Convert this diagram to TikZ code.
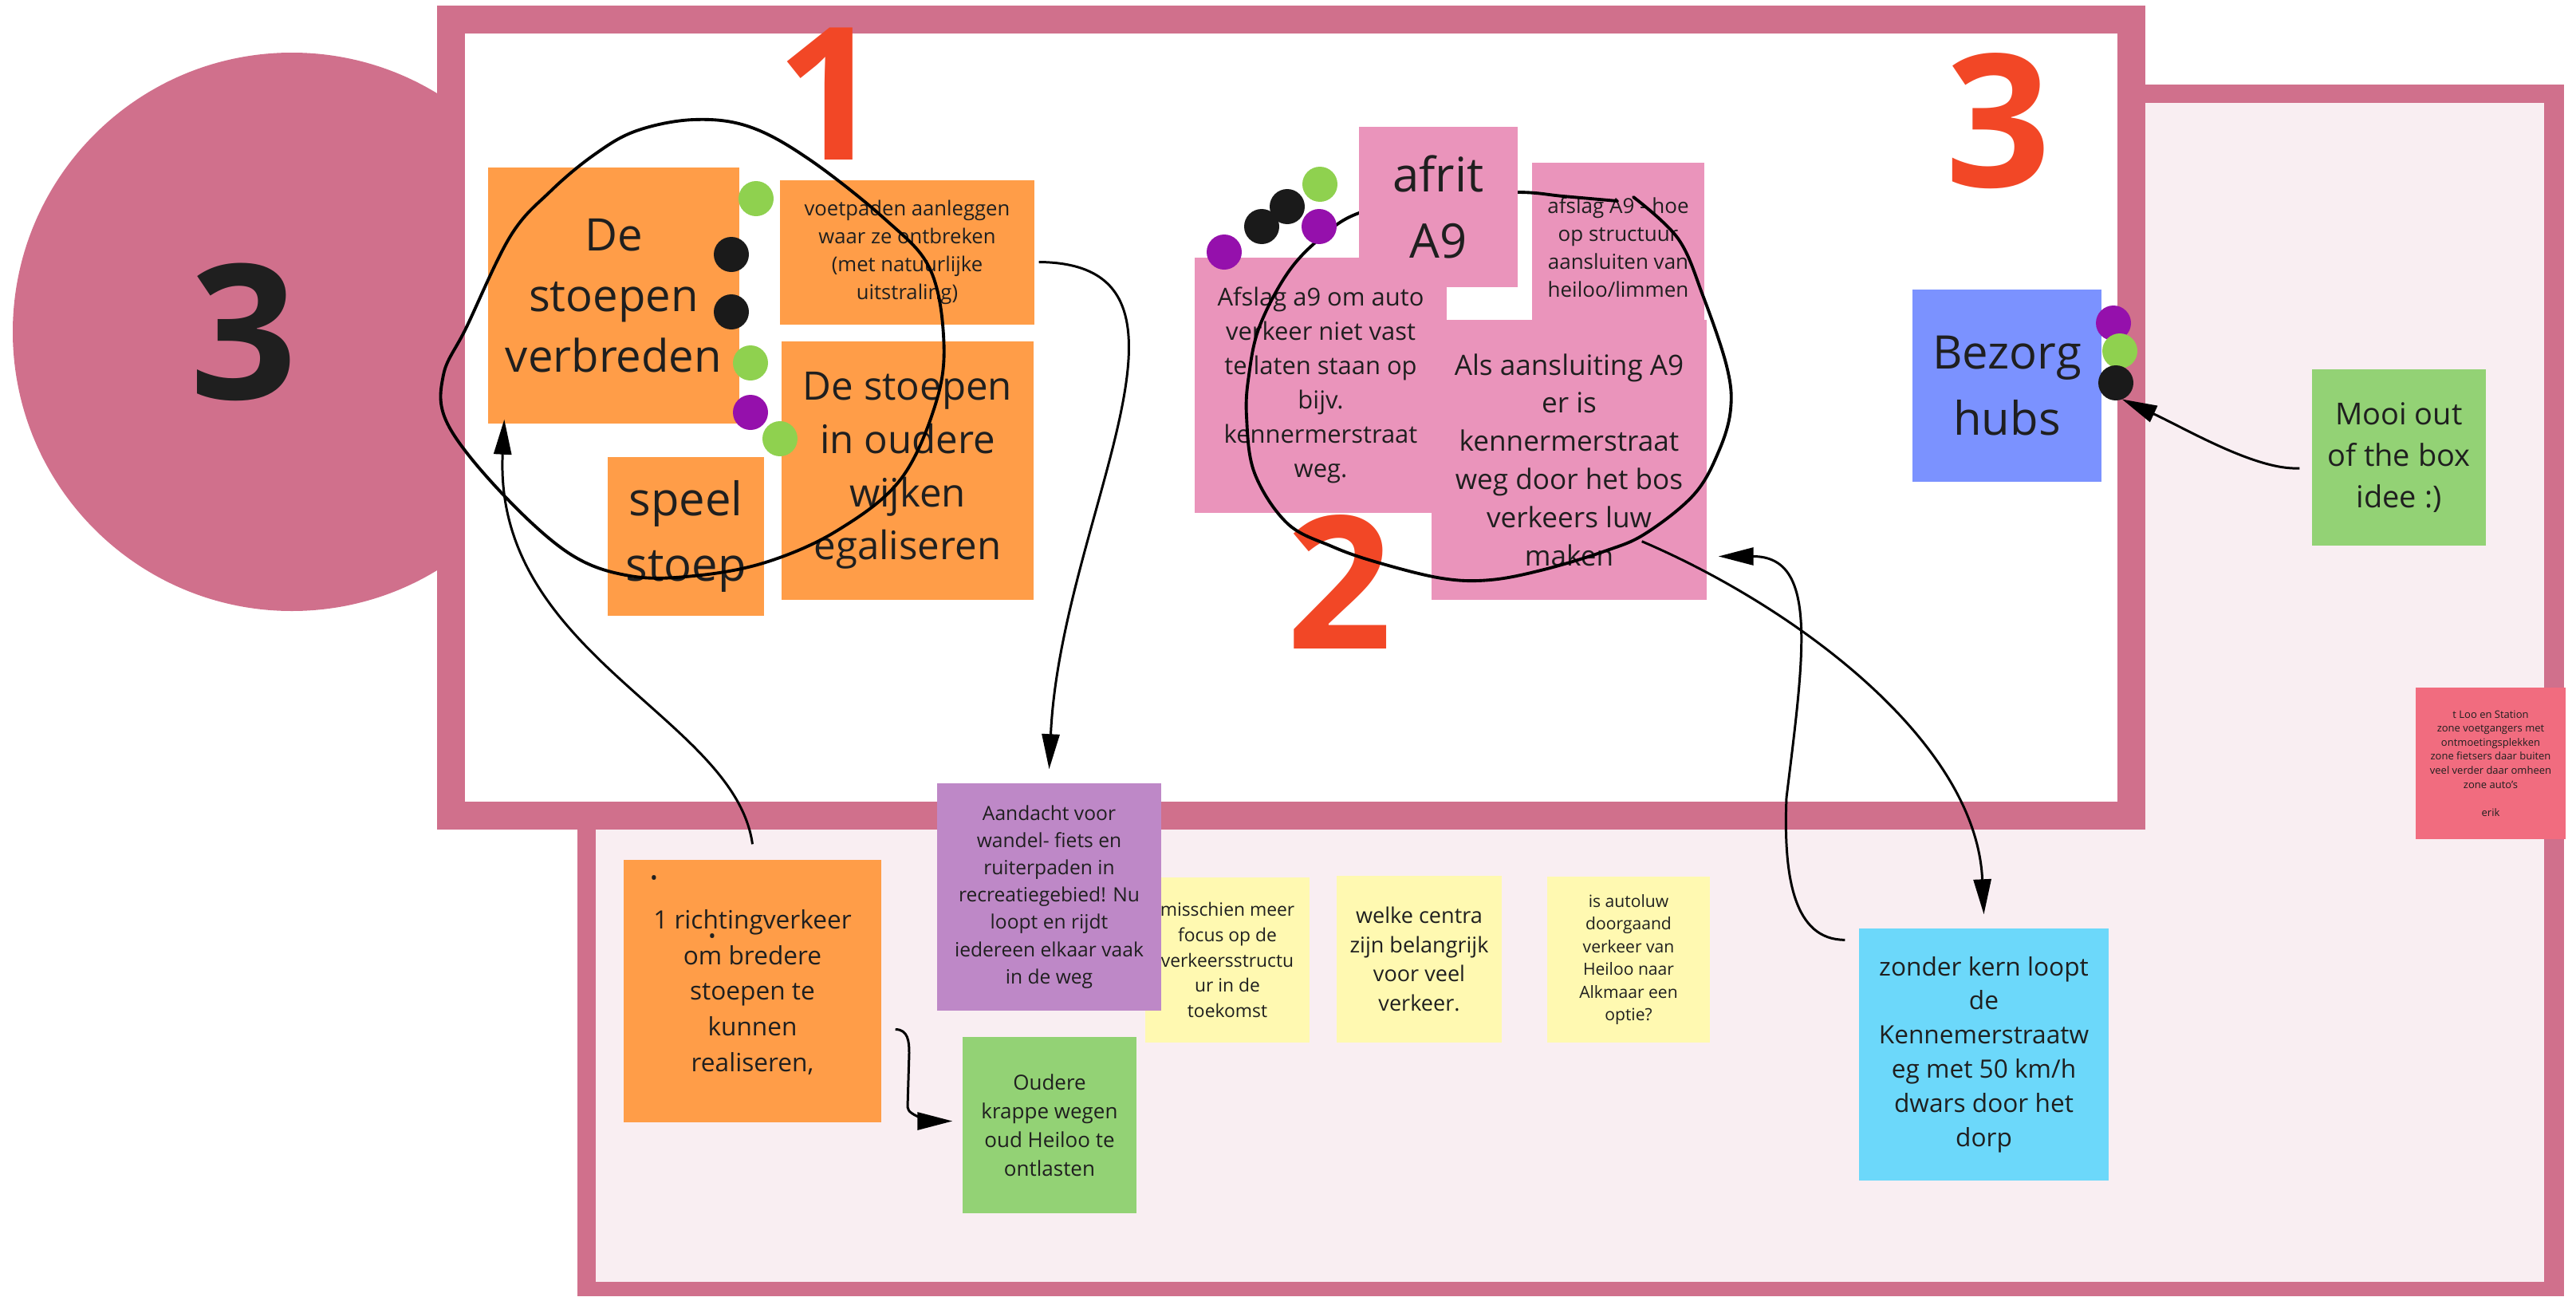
\documentclass[tikz,border=0pt]{standalone}
\usepackage{fontspec}
\setmainfont{Open Sans}
\usetikzlibrary{arrows.meta}
\definecolor{framepink}{HTML}{D0708C}
\definecolor{framebg}{HTML}{F9EEF2}
\definecolor{ink}{HTML}{1F1F1F}
\definecolor{numred}{HTML}{F24726}
\definecolor{orangest}{HTML}{FF9D48}
\definecolor{pinkst}{HTML}{EA94BB}
\definecolor{purplest}{HTML}{BE88C7}
\definecolor{yellowst}{HTML}{FFF9B1}
\definecolor{greenst}{HTML}{93D275}
\definecolor{bluest}{HTML}{7B92FF}
\definecolor{cyanst}{HTML}{6CD8FA}
\definecolor{redst}{HTML}{F16C7F}
\definecolor{dotgreen}{HTML}{8FD14F}
\definecolor{dotblack}{HTML}{1A1A1A}
\definecolor{dotpurple}{HTML}{9510AC}
\newcommand{\fsz}[2]{\fontsize{#1}{#2}\selectfont}
\tikzset{
  sticky/.style={inner sep=0pt, align=center, text=ink},
  bignum/.style={inner sep=0pt, text=numred, font=\fsz{66}{66}\bfseries},
  link/.style={line width=0.85pt, -{Triangle[length=4.4mm,width=2.2mm]}},
  lasso/.style={line width=1.1pt, line cap=round, line join=round},
}

\begin{document}
\begin{tikzpicture}
      \useasboundingbox (0,0) rectangle (32.3,-16.25);
      \fill[framepink] (3.66,-4.16) circle (3.5);
      \fill[framepink] (7.24,-1.06) rectangle (32.15,-16.25);
      \fill[framebg] (7.47,-1.29) rectangle (31.90,-16.07);
      \fill[framepink] (5.48,-0.07) rectangle (26.90,-10.40);
      \fill[white] (5.83,-0.42) rectangle (26.55,-10.05);
      \node[inner sep=0pt, text=ink, font=\fsz{67}{67}\bfseries] (three) at (3.06,-4.16) {3};
      \node[bignum] (one) at (10.40,-1.18) {1};
      \node[bignum] (two) at (16.80,-7.30) {2};
      \node[bignum] (threeb) at (25.06,-1.52) {3};

      \node[sticky, fill=orangest, minimum width=3.15cm, minimum height=3.21cm, font=\fsz{16}{21.6}] (ds) at (7.695,-3.705) {De\\stoepen\\verbreden};
      \node[sticky, fill=orangest, minimum width=3.19cm, minimum height=1.81cm, font=\fsz{7.3}{10}] (vp) at (11.375,-3.165) {voetpaden aanleggen\\waar ze ontbreken\\(met natuurlijke\\uitstraling)};
      \node[sticky, fill=orangest, minimum width=3.16cm, minimum height=3.24cm, font=\fsz{14}{19}] (eg) at (11.38,-5.90) {De stoepen\\in oudere\\wijken\\egaliseren};
      \node[sticky, fill=orangest, minimum width=1.96cm, minimum height=1.99cm, font=\fsz{16.5}{23.4}] (sp) at (8.60,-6.725) {speel\\stoep};
      \draw[lasso] plot[smooth cycle, tension=0.6] coordinates {(7.98,-1.64) (8.70,-1.50) (9.40,-1.59) (10.15,-2.00) (11.10,-2.75) (11.65,-3.35) (11.83,-4.20) (11.75,-5.00) (11.30,-6.00) (10.50,-6.65) (9.60,-7.05) (8.70,-7.22) (7.90,-7.22) (7.14,-6.94) (6.28,-6.17) (5.61,-5.31) (5.56,-4.70) (5.85,-4.10) (6.40,-2.96) (6.90,-2.40) (7.45,-1.94)};

      \node[sticky, fill=pinkst, minimum width=3.16cm, minimum height=3.20cm, font=\fsz{8.8}{12.2}] (ab) at (16.56,-4.83) {Afslag a9 om auto\\verkeer niet vast\\te laten staan op\\bijv.\\kennermerstraat\\weg.};
      \node[sticky, fill=pinkst, minimum width=2.16cm, minimum height=2.12cm, font=\fsz{7.4}{10}] (ah) at (20.29,-3.10) {afslag A9 - hoe\\op structuur\\aansluiten van\\heiloo/limmen};
      \node[sticky, fill=pinkst, minimum width=3.45cm, minimum height=3.51cm, font=\fsz{10}{13.6}] (al) at (19.675,-5.765) {Als aansluiting A9\\er is\\kennermerstraat\\weg door het bos\\verkeers luw\\maken};
      \draw[lasso] plot[smooth, tension=0.6] coordinates {(20.48,-2.47) (21.04,-2.99) (21.35,-3.70) (21.65,-4.59) (21.70,-5.13) (21.55,-5.66) (21.24,-6.20) (20.63,-6.69) (20.12,-6.91) (19.36,-7.14) (18.69,-7.27) (18.08,-7.25) (17.27,-7.05) (16.70,-6.85) (16.14,-6.56) (15.73,-5.93) (15.63,-5.22) (15.66,-4.70) (15.79,-4.10) (16.14,-3.43) (16.55,-2.99) (17.04,-2.67) (18.00,-2.45) (19.03,-2.41) (19.60,-2.46) (20.28,-2.52)};
      \node[sticky, fill=pinkst, minimum width=1.99cm, minimum height=2.01cm, font=\fsz{17}{23.4}] (af) at (18.035,-2.595) {afrit\\A9};

      \node[sticky, fill=bluest, minimum width=2.37cm, minimum height=2.41cm, font=\fsz{16.5}{23.4}] (bz) at (25.165,-4.835) {Bezorg\\hubs};
      \node[sticky, fill=greenst, minimum width=2.18cm, minimum height=2.21cm, font=\fsz{10.8}{14.7}] (mo) at (30.08,-5.735) {Mooi out\\of the box\\idee :)};
      \node[sticky, fill=redst, minimum width=1.88cm, minimum height=1.90cm, font=\fsz{3.7}{5}] (er) at (31.23,-9.57) {t Loo en Station\\zone voetgangers met\\ontmoetingsplekken\\zone fietsers daar buiten\\veel verder daar omheen\\zone auto's\\[5pt]erik};

      \node[sticky, fill=orangest, minimum width=3.23cm, minimum height=3.29cm, font=\fsz{9}{12.7}] (rv) at (9.435,-12.425) {\phantom{1}\\1 richtingverkeer\\om bredere\\stoepen te\\kunnen\\realiseren,\\\phantom{1}};
      \node[inner sep=0pt, text=ink, font=\fsz{7}{7}] (rvdota) at (8.20,-11.04) {•};
      \node[inner sep=0pt, text=ink, font=\fsz{7}{7}] (rvdotb) at (8.93,-11.77) {•};
      \node[sticky, fill=yellowst, minimum width=2.06cm, minimum height=2.07cm, font=\fsz{6.5}{9}] (ya) at (15.39,-12.035) {misschien meer\\focus op de\\verkeersstructu\\ur in de\\toekomst};
      \node[sticky, fill=purplest, minimum width=2.81cm, minimum height=2.85cm, font=\fsz{7}{9.7}] (ad) at (13.155,-11.245) {Aandacht voor\\wandel- fiets en\\ruiterpaden in\\recreatiegebied! Nu\\loopt en rijdt\\iedereen elkaar vaak\\in de weg};
      \node[sticky, fill=greenst, minimum width=2.18cm, minimum height=2.21cm, font=\fsz{7.4}{10.2}] (ou) at (13.16,-14.105) {Oudere\\krappe wegen\\oud Heiloo te\\ontlasten};
      \node[sticky, fill=yellowst, minimum width=2.07cm, minimum height=2.09cm, font=\fsz{7.7}{10.4}] (yb) at (17.795,-12.025) {welke centra\\zijn belangrijk\\voor veel\\verkeer.};
      \node[sticky, fill=yellowst, minimum width=2.04cm, minimum height=2.08cm, font=\fsz{6}{8.1}] (yc) at (20.42,-12.03) {is autoluw\\doorgaand\\verkeer van\\Heiloo naar\\Alkmaar een\\optie?};
      \node[sticky, fill=cyanst, minimum width=3.13cm, minimum height=3.16cm, font=\fsz{9}{12.2}] (cy) at (24.875,-13.22) {zonder kern loopt\\de\\Kennemerstraatw\\eg met 50 km/h\\dwars door het\\dorp};

      \foreach \x/\y/\c in {9.48/-2.49/dotgreen, 9.17/-3.19/dotblack, 9.17/-3.91/dotblack, 9.41/-4.55/dotgreen, 9.41/-5.17/dotpurple, 9.78/-5.50/dotgreen,
        15.35/-3.16/dotpurple, 15.82/-2.84/dotblack, 16.14/-2.59/dotblack, 16.55/-2.31/dotgreen, 16.54/-2.84/dotpurple,
        26.50/-4.05/dotpurple, 26.58/-4.40/dotgreen, 26.53/-4.80/dotblack}{
      \fill[\c] (\x,\y) circle (0.22);
      }

      \draw[link] ([yshift=0.19cm]rv.north) .. controls +(-0.22,1.59) and +(-0.14,-2.95) .. ([shift={(0.21,0.06)}]ds.south west);
      \draw[link] ([shift={(0.05,-0.12)}]vp.east) .. controls +(2.38,-0.02) and +(0.145,3.15) .. ([yshift=0.17cm]ad.north);
      \draw[link] ([shift={(0.17,-0.48)}]rv.east) .. controls +(0.16,0) and +(0,0.14) .. (11.40,-13.20) -- (11.38,-13.88) .. controls +(0,-0.12) and +(-0.18,0) .. ([shift={(-0.12,0.05)}]ou.west);
      \draw[link] ([shift={(-0.82,0.74)}]al.south east) .. controls +(1.92,-0.82) and +(-0.095,2.17) .. ([yshift=0.17cm]cy.north);
      \draw[link] ([shift={(-0.17,-0.15)}]cy.north west) .. controls +(-0.64,0) and +(-0.04,-1.0) .. (22.40,-10.00) .. controls +(0.22,1.80) and +(1.26,0) .. ([shift={(0.14,-1.21)}]al.east);
      \draw[link] ([shift={(-0.15,-0.135)}]mo.west) .. controls +(-0.54,-0.03) and +(0.80,-0.37) .. ([shift={(0.25,-0.17)}]bz.east);
    \end{tikzpicture}
\end{document}
